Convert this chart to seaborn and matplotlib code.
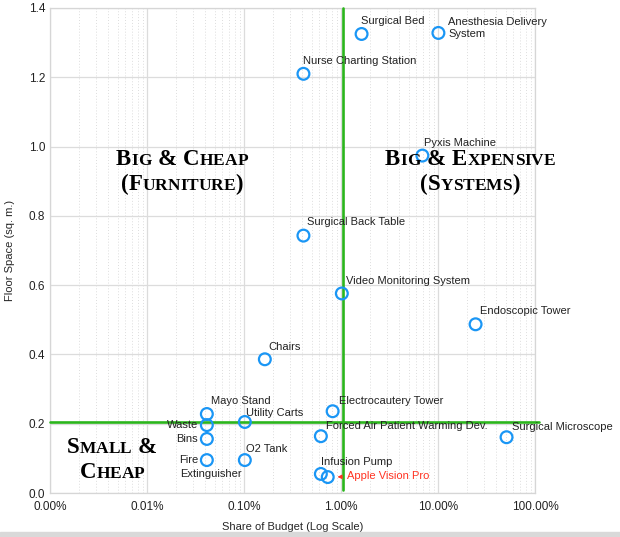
import numpy as np
import pandas as pd
import matplotlib
matplotlib.use("Agg")
import matplotlib.pyplot as plt
from matplotlib.ticker import FuncFormatter, LogLocator
from matplotlib.offsetbox import TextArea, HPacker, VPacker, AnnotationBbox
from matplotlib.patches import Rectangle
import seaborn as sns

# data (share of budget as a fraction, floor space in sq. m.)
items = ["Surgical Bed", "Anesthesia Delivery\nSystem", "Nurse Charting Station",
         "Pyxis Machine", "Surgical Back Table", "Video Monitoring System",
         "Endoscopic Tower", "Chairs", "Mayo Stand", "Waste", "Bins", "Fire",
         "Utility Carts", "O2 Tank", "Electrocautery Tower",
         "Forced Air Patient Warming Dev.", "Surgical Microscope",
         "Infusion Pump", "Apple Vision Pro"]
budget = [0.0163, 0.101, 0.0041, 0.069, 0.0041, 0.0102, 0.244, 0.00164,
          0.000414, 0.000414, 0.000414, 0.000414, 0.00102, 0.00102,
          0.0082, 0.0062, 0.509, 0.0062, 0.0073]
space = [1.325, 1.328, 1.21, 0.974, 0.743, 0.576, 0.487, 0.386, 0.228,
         0.196, 0.156, 0.095, 0.205, 0.095, 0.236, 0.164, 0.161, 0.055, 0.046]
split_budget = 0.0105
split_space = 0.205

df = pd.DataFrame({"item": items, "budget": budget, "space": space})

blue = "#1a96f5"
green = "#2bb51c"

sns.set_style("white")
plt.rcParams["font.family"] = ["Liberation Sans", "DejaVu Sans"]

fig = plt.figure(figsize=(6.2, 5.37), dpi=100)
ax = fig.add_axes([50 / 620, 44 / 537, 485 / 620, 485 / 537])

sns.scatterplot(data=df, x="budget", y="space", ax=ax, s=72,
                facecolors="none", edgecolor=blue, linewidth=1.6, zorder=4)

ax.set_xscale("log")
ax.set_xlim(1e-5, 1)
ax.set_ylim(0, 1.4)
ax.set_yticks(np.arange(0, 1.41, 0.2))
ax.yaxis.set_major_formatter(FuncFormatter(lambda v, p: f"{v:.1f}"))
ax.xaxis.set_major_locator(LogLocator(base=10, numticks=10))
ax.xaxis.set_minor_locator(LogLocator(base=10, subs=np.arange(2, 10), numticks=20))
ax.xaxis.set_major_formatter(FuncFormatter(lambda v, p: f"{v * 100:.2f}%"))
ax.tick_params(axis="both", which="both", length=0, labelsize=8.5, colors="#222222")
ax.tick_params(axis="x", pad=6)

ax.grid(True, which="major", color="#dcdcdc", lw=0.9)
ax.grid(True, which="minor", axis="x", color="#dddddd", lw=0.7, ls=(0, (1, 2)))
ax.set_axisbelow(True)
for sp in ax.spines.values():
    sp.set_color("#d6d6d6")
    sp.set_linewidth(0.9)

ax.set_xlabel("Share of Budget (Log Scale)", fontsize=8, labelpad=6)
ax.set_ylabel("Floor Space (sq. m.)", fontsize=8, labelpad=10)

# quadrant split lines
ax.plot([split_budget, split_budget], [0.01, 1.4], color=green, lw=1.9, zorder=3, clip_on=False)
ax.plot([1e-5, 1.1], [split_space, split_space], color=green, lw=1.9, zorder=3, clip_on=False)

# label offsets in pixels (dx, dy, ha)
offsets = {
    "Surgical Bed": (-1, 13, "left"),
    "Anesthesia Delivery\nSystem": (10, 5, "left"),
    "Nurse Charting Station": (0, 13, "left"),
    "Pyxis Machine": (2, 13, "left"),
    "Surgical Back Table": (4, 14, "left"),
    "Video Monitoring System": (4, 12, "left"),
    "Endoscopic Tower": (4, 13, "left"),
    "Chairs": (4, 12, "left"),
    "Mayo Stand": (4, 13, "left"),
    "Waste": (-9, 0, "right"),
    "Bins": (-9, 0, "right"),
    "Fire": (-8, 0, "right"),
    "Utility Carts": (1, 9, "left"),
    "O2 Tank": (1, 11, "left"),
    "Electrocautery Tower": (6, 10, "left"),
    "Forced Air Patient Warming Dev.": (5, 10, "left"),
    "Surgical Microscope": (5, 10, "left"),
    "Infusion Pump": (0, 12, "left"),
}
for name, bx, sy in zip(items, budget, space):
    if name == "Apple Vision Pro":
        ax.annotate(name, (bx, sy), xytext=(19, 1), textcoords="offset pixels",
                    fontsize=8, color="#ff3322", ha="left", va="center",
                    arrowprops=dict(arrowstyle="-|>", color="#ff3322", lw=0.8,
                                    mutation_scale=6, shrinkA=1, shrinkB=7))
        continue
    dx, dy, ha = offsets[name]
    ax.annotate(name, (bx, sy), xytext=(dx, dy), textcoords="offset pixels",
                fontsize=8, color="#222222", ha=ha, va="center",
                linespacing=1.25, zorder=5)
    if name == "Fire":
        ax.annotate("Extinguisher", (bx, sy), xytext=(-27, -14),
                    textcoords="offset pixels", fontsize=8, color="#222222",
                    ha="left", va="center", zorder=5)


def small_caps(text, big=16.5, small=12.5):
    # fake small caps: first letter of each word large, rest smaller
    parts = []
    for w_i, word in enumerate(text.split(" ")):
        if w_i:
            parts.append(TextArea(" ", textprops=dict(size=big)))
        first = True
        for ch in word:
            if ch.isalpha() and first:
                sz = big
                first = False
            elif ch.isalpha():
                sz = small
            else:
                sz = big
            parts.append(TextArea(ch.upper(), textprops=dict(
                size=sz, family="Liberation Serif", weight="bold", color="black")))
    return HPacker(children=parts, align="baseline", pad=0, sep=0)


def quadrant_label(lines, xy):
    box = VPacker(children=[small_caps(l) for l in lines], align="center", pad=0, sep=3)
    ab = AnnotationBbox(box, xy, xycoords="axes fraction", frameon=False,
                        box_alignment=(0.5, 0.5), zorder=6)
    ax.add_artist(ab)


quadrant_label(["Big & Cheap", "(Furniture)"], (0.272, 0.664))
quadrant_label(["Big & Expensive", "(Systems)"], (0.866, 0.664))
quadrant_label(["Small &", "Cheap"], (0.128, 0.070))

fig.patches.append(Rectangle((0, 0), 1, 5 / 537, transform=fig.transFigure,
                             color="#d9d9d9", zorder=0))

fig.savefig("out.png", dpi=100)
